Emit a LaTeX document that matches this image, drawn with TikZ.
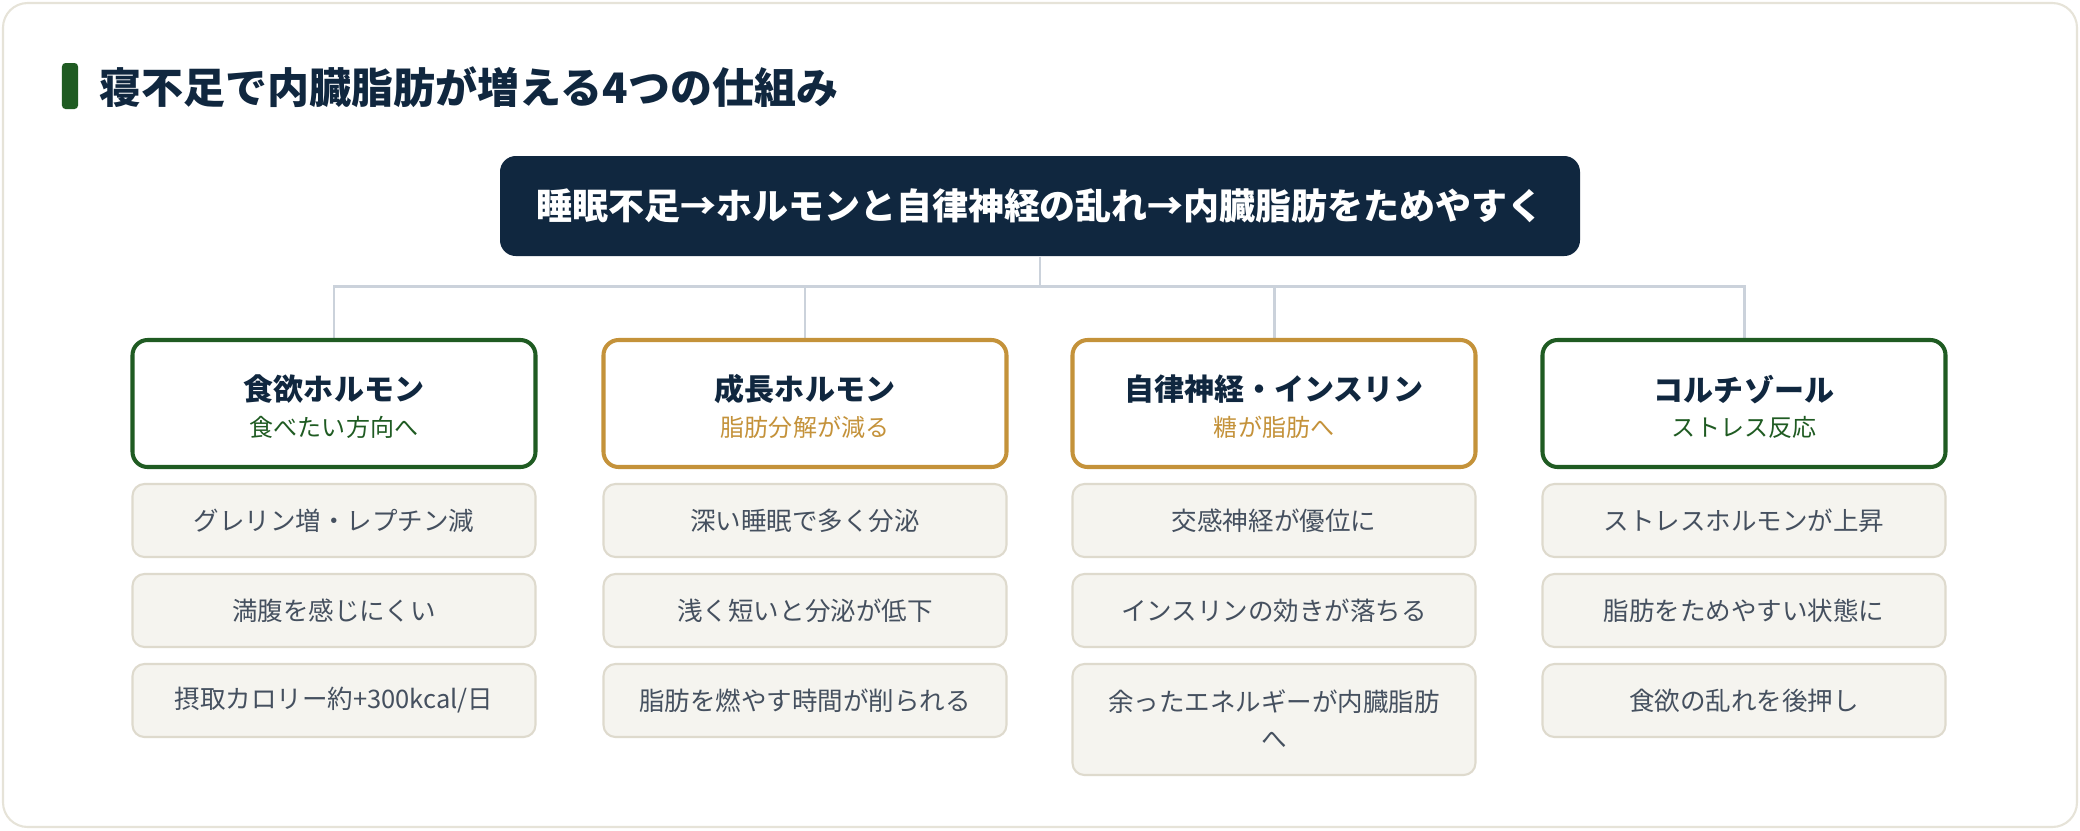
\documentclass[tikz,border=0pt]{standalone}
\usepackage{fontspec}
\usepackage{xcolor}
\usepackage{tikz}
\setmainfont{Noto Sans CJK JP}

\definecolor{navy}{HTML}{10273F}
\definecolor{leafgreen}{HTML}{1F5B22}
\definecolor{gold}{HTML}{C4923A}
\definecolor{linkgray}{HTML}{CBD2DB}
\definecolor{itemfill}{HTML}{F5F4EF}
\definecolor{itemline}{HTML}{DEDACD}
\definecolor{itemtext}{HTML}{45505F}
\definecolor{cardline}{HTML}{E6E3D8}

\begin{document}
\begin{tikzpicture}[
        header/.style={rectangle, fill=white, line width=1.15pt, minimum width=4.03cm, minimum height=1.27cm, rounded corners=4.3pt},
        item/.style={rectangle, draw=itemline, fill=itemfill, line width=0.6pt, minimum width=4.03cm, minimum height=0.73cm, rounded corners=3.4pt, text=itemtext, font=\fontsize{7.26pt}{10.5pt}\selectfont, align=center},
        headTitle/.style={font=\fontsize{8.54pt}{10pt}\selectfont\bfseries, text=navy, inner sep=0pt},
        headSub/.style={font=\fontsize{6.83pt}{8pt}\selectfont, inner sep=0pt},
        link/.style={draw=linkgray, line width=0.85pt}
    ]

        % ========== CARD ==========
        \useasboundingbox (0,0) rectangle (20.8,-8.3);
        \draw[cardline, fill=white, line width=0.6pt, rounded corners=7pt] (0.03,-0.03) rectangle (20.77,-8.27);

        % ========== TITLE ==========
        \node[fill=leafgreen, minimum width=0.16cm, minimum height=0.46cm, rounded corners=1pt, inner sep=0pt] (titleBar) at (0.70,-0.86) {};
        \node[anchor=west, inner sep=0pt, font=\fontsize{11.95pt}{14pt}\selectfont\bfseries, text=navy] (title) at (0.99,-0.875) {寝不足で内臓脂肪が増える4つの仕組み};

        % ========== SUMMARY BOX ==========
        \node[fill=navy, rounded corners=4.5pt, minimum width=10.8cm, minimum height=1.0cm, text=white, font=\fontsize{10.24pt}{12pt}\selectfont\bfseries] (mainBox) at (10.40,-2.06) {睡眠不足→ホルモンと自律神経の乱れ→内臓脂肪をためやすく};

        % ========== BRANCH LINES ==========
        \coordinate (bus) at (10.40,-2.86);
        \coordinate (appetiteTop) at (3.34,-3.40);
        \coordinate (growthTop) at (8.05,-3.40);
        \coordinate (autonomicTop) at (12.74,-3.40);
        \coordinate (cortisolTop) at (17.44,-3.40);
        \draw[link] (mainBox.south) -- (bus);
        \draw[link] (appetiteTop) |- (bus) -| (cortisolTop);
        \draw[link] (growthTop) -- (growthTop |- bus);
        \draw[link] (autonomicTop) -- (autonomicTop |- bus);

        % ========== HEADER BOXES ==========
        \node[header, draw=leafgreen] (appetite) at (3.34,-4.035) {};
        \node[header, draw=gold] (growth) at (8.05,-4.035) {};
        \node[header, draw=gold] (autonomic) at (12.74,-4.035) {};
        \node[header, draw=leafgreen] (cortisol) at (17.44,-4.035) {};

        % header texts
        \node[headTitle] (appetiteName) at (3.34,-3.895) {食欲ホルモン};
        \node[headSub, text=leafgreen] (appetiteNote) at (3.34,-4.275) {食べたい方向へ};
        \node[headTitle] (growthName) at (8.05,-3.895) {成長ホルモン};
        \node[headSub, text=gold] (growthNote) at (8.05,-4.275) {脂肪分解が減る};
        \node[headTitle] (autonomicName) at (12.74,-3.895) {自律神経・インスリン};
        \node[headSub, text=gold] (autonomicNote) at (12.74,-4.275) {糖が脂肪へ};
        \node[headTitle] (cortisolName) at (17.44,-3.895) {コルチゾール};
        \node[headSub, text=leafgreen] (cortisolNote) at (17.44,-4.275) {ストレス反応};

        % ========== ITEM BOXES ==========
        \node[item] (appetite1) at (3.34,-5.205) {グレリン増・レプチン減};
        \node[item] (appetite2) at (3.34,-6.105) {満腹を感じにくい};
        \node[item] (appetite3) at (3.34,-7.005) {摂取カロリー約+300kcal/日};

        \node[item] (growth1) at (8.05,-5.205) {深い睡眠で多く分泌};
        \node[item] (growth2) at (8.05,-6.105) {浅く短いと分泌が低下};
        \node[item] (growth3) at (8.05,-7.005) {脂肪を燃やす時間が削られる};

        \node[item] (autonomic1) at (12.74,-5.205) {交感神経が優位に};
        \node[item] (autonomic2) at (12.74,-6.105) {インスリンの効きが落ちる};
        \node[item, minimum height=1.11cm] (autonomic3) at (12.74,-7.195) {余ったエネルギーが内臓脂肪\\へ};

        \node[item] (cortisol1) at (17.44,-5.205) {ストレスホルモンが上昇};
        \node[item] (cortisol2) at (17.44,-6.105) {脂肪をためやすい状態に};
        \node[item] (cortisol3) at (17.44,-7.005) {食欲の乱れを後押し};

    \end{tikzpicture}
\end{document}
